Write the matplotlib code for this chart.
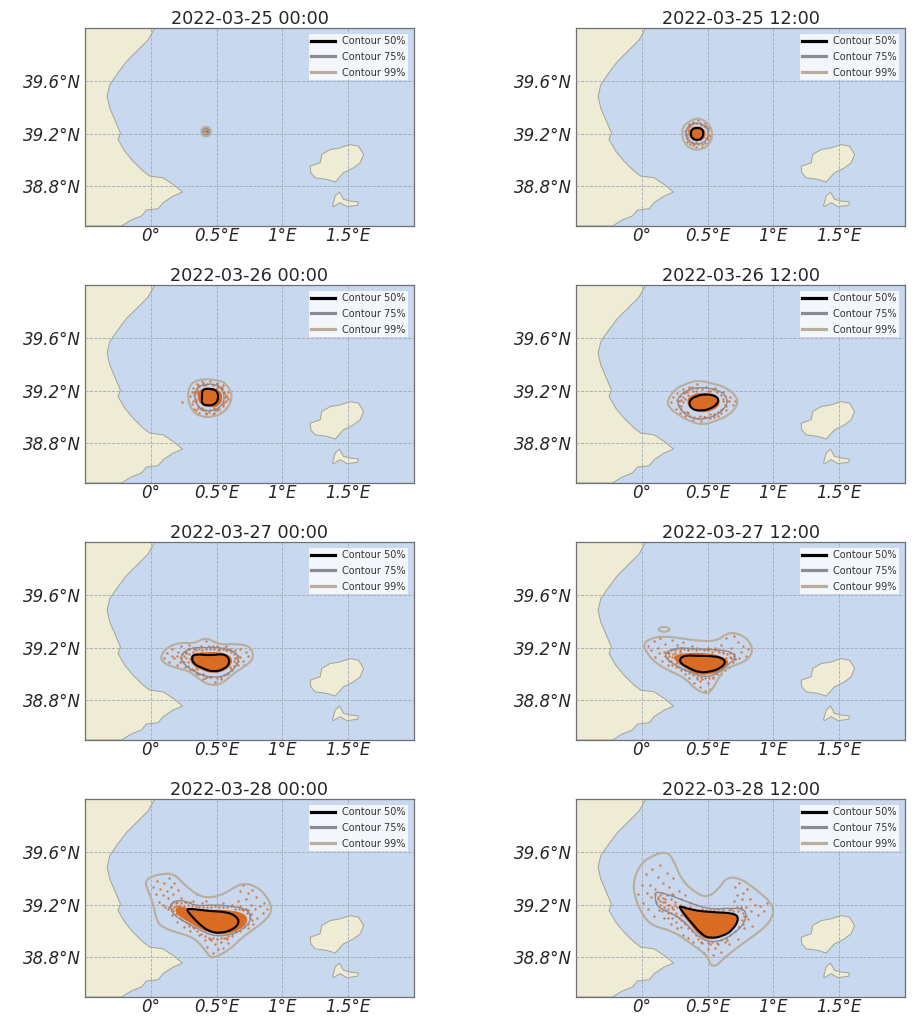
import matplotlib
matplotlib.use('Agg')
import matplotlib.pyplot as plt
from matplotlib.lines import Line2D
from matplotlib.path import Path
from matplotlib.patches import PathPatch

######################################
# Particle spreading maps, 12 hour steps
# all positions are lon,lat in degrees read off the map
######################################

titles = ['2022-03-25 00:00', '2022-03-25 12:00', '2022-03-26 00:00', '2022-03-26 12:00',
          '2022-03-27 00:00', '2022-03-27 12:00', '2022-03-28 00:00', '2022-03-28 12:00']

lon_ticks = [0, 0.5, 1, 1.5]
lon_labels = ['0°', '0.5°E', '1°E', '1.5°E']
lat_ticks = [38.8, 39.2, 39.6]
lat_labels = ['38.8°N', '39.2°N', '39.6°N']

# land
coast = [(0.03,40.0),(-0.02,39.91),(-0.096,39.834),(-0.185,39.746),(-0.261,39.645),(-0.312,39.57),
         (-0.332,39.482),(-0.312,39.394),(-0.274,39.306),(-0.231,39.205),(-0.249,39.155),(-0.198,39.067),
         (-0.135,38.991),(-0.058,38.916),(-0.008,38.878),(0.094,38.865),(0.17,38.815),(0.241,38.757),
         (0.17,38.727),(0.094,38.677),(0.056,38.631),(-0.033,38.621),(-0.071,38.576),(-0.147,38.546),
         (-0.223,38.5),(-0.6,38.5),(-0.6,40.0)]
ibiza = [(1.211,38.953),(1.287,38.979),(1.299,39.042),(1.363,39.079),(1.439,39.092),(1.515,39.117),
         (1.579,39.104),(1.617,39.042),(1.591,38.979),(1.541,38.941),(1.464,38.903),(1.401,38.833),
         (1.338,38.853),(1.249,38.865),(1.216,38.903)]
formentera = [(1.381,38.652),(1.401,38.727),(1.434,38.757),(1.464,38.702),(1.515,38.689),(1.579,38.682),
              (1.571,38.657),(1.49,38.647),(1.439,38.677),(1.388,38.647)]

# contours per panel
c50_p1 = []
c75_p1 = [(0.445,39.215),(0.438,39.233),(0.42,39.24),(0.402,39.233),(0.395,39.215),(0.402,39.197),(0.42,39.19),(0.438,39.197)]
c99_p1 = [(0.458,39.215),(0.447,39.243),(0.42,39.253),(0.393,39.243),(0.382,39.215),(0.393,39.187),(0.42,39.177),(0.447,39.187)]

c50_p2 = [(0.47,39.2),(0.46,39.235),(0.42,39.245),(0.38,39.235),(0.37,39.195),(0.385,39.16),(0.42,39.15),(0.455,39.16)]
c75_p2 = [(0.51,39.2),(0.49,39.26),(0.42,39.285),(0.35,39.26),(0.33,39.2),(0.35,39.14),(0.42,39.115),(0.49,39.14)]
c99_p2 = [(0.535,39.2),(0.525,39.25),(0.49,39.29),(0.43,39.32),(0.36,39.295),(0.31,39.25),(0.305,39.19),(0.32,39.13),
          (0.37,39.085),(0.43,39.075),(0.49,39.095),(0.53,39.15)]

c50_p3 = [(0.39,39.21),(0.45,39.215),(0.505,39.2),(0.515,39.14),(0.49,39.095),(0.43,39.085),(0.385,39.1),(0.39,39.15)]
c75_p3 = [(0.345,39.22),(0.42,39.255),(0.52,39.24),(0.565,39.16),(0.54,39.08),(0.46,39.04),(0.37,39.06),(0.33,39.14)]
c99_p3 = [(0.29,39.23),(0.33,39.27),(0.41,39.29),(0.5,39.28),(0.57,39.26),(0.62,39.17),(0.6,39.09),(0.55,39.03),
          (0.47,39.0),(0.38,39.0),(0.31,39.05),(0.28,39.14)]

c50_p4 = [(0.355,39.12),(0.41,39.16),(0.5,39.175),(0.575,39.155),(0.585,39.11),(0.53,39.065),(0.45,39.045),(0.375,39.06)]
c75_p4 = [(0.26,39.13),(0.33,39.2),(0.45,39.23),(0.6,39.2),(0.66,39.13),(0.62,39.05),(0.52,38.99),(0.4,38.98),(0.3,39.04)]
c99_p4 = [(0.19,39.12),(0.25,39.21),(0.33,39.25),(0.43,39.28),(0.55,39.25),(0.63,39.23),(0.72,39.16),(0.73,39.09),
          (0.66,39.01),(0.56,38.97),(0.47,38.94),(0.38,38.96),(0.27,39.02),(0.21,39.07)]

c50_p5 = [(0.31,39.14),(0.36,39.15),(0.45,39.14),(0.57,39.155),(0.605,39.09),(0.56,39.035),(0.47,39.015),(0.39,39.045),(0.32,39.08)]
c75_p5 = [(0.22,39.14),(0.3,39.2),(0.42,39.2),(0.55,39.2),(0.66,39.16),(0.67,39.08),(0.58,38.99),(0.47,38.97),(0.36,39.0),(0.25,39.07)]
c99_p5 = [(0.07,39.13),(0.12,39.2),(0.22,39.24),(0.33,39.23),(0.42,39.28),(0.52,39.22),(0.65,39.23),(0.76,39.21),(0.785,39.12),
          (0.72,39.06),(0.62,39.0),(0.55,38.93),(0.46,38.91),(0.38,38.95),(0.3,39.02),(0.18,39.05),(0.1,39.08)]

c50_p6 = [(0.284,39.112),(0.327,39.142),(0.416,39.137),(0.518,39.137),(0.607,39.125),(0.64,39.087),(0.594,39.042),
          (0.518,39.016),(0.429,39.011),(0.353,39.049),(0.302,39.074)]
c75_p6 = [(0.175,39.162),(0.264,39.2),(0.391,39.192),(0.518,39.187),(0.67,39.175),(0.721,39.125),(0.645,39.062),
          (0.569,38.999),(0.48,38.974),(0.365,39.011),(0.264,39.062),(0.188,39.112)]
c99_p6 = [(0.01,39.225),(0.061,39.268),(0.162,39.288),(0.315,39.268),(0.442,39.25),(0.569,39.25),(0.645,39.308),
          (0.721,39.313),(0.81,39.263),(0.848,39.175),(0.797,39.099),(0.695,39.062),(0.619,39.036),(0.594,38.986),
          (0.53,38.873),(0.492,38.848),(0.404,38.886),(0.34,38.961),(0.239,39.011),(0.112,39.074),(0.036,39.162)]
islet_p6 = [(0.125,39.338),(0.14,39.352),(0.17,39.358),(0.2,39.352),(0.215,39.338),(0.2,39.324),(0.17,39.318),(0.14,39.324)]

c50_p7 = [(0.266,39.167),(0.322,39.167),(0.449,39.15),(0.576,39.145),(0.652,39.112),(0.673,39.062),(0.627,39.011),
          (0.525,38.981),(0.437,38.999),(0.373,39.049),(0.31,39.112)]
c75_p7 = [(0.145,39.213),(0.234,39.238),(0.348,39.187),(0.475,39.2),(0.627,39.187),(0.741,39.162),(0.766,39.087),
          (0.703,39.011),(0.576,38.961),(0.449,38.966),(0.348,39.024),(0.246,39.074),(0.157,39.137)]
c99_p7 = [(-0.046,39.376),(0.005,39.414),(0.094,39.434),(0.17,39.434),(0.234,39.376),(0.297,39.313),(0.398,39.25),
          (0.525,39.263),(0.627,39.326),(0.703,39.364),(0.805,39.338),(0.881,39.263),(0.926,39.167),(0.881,39.087),
          (0.779,39.011),(0.69,38.948),(0.602,38.86),(0.462,38.785),(0.429,38.835),(0.335,38.948),(0.208,38.986),
          (0.094,39.024),(0.043,39.074),(0.018,39.213),(-0.02,39.301)]

c50_p8 = [(0.277,39.195),(0.365,39.162),(0.518,39.142),(0.695,39.137),(0.741,39.099),(0.695,39.011),(0.619,38.961),
          (0.518,38.943),(0.454,38.974),(0.378,39.062),(0.315,39.137)]
c75_p8 = [(0.099,39.275),(0.112,39.301),(0.239,39.263),(0.365,39.213),(0.518,39.162),(0.695,39.175),(0.797,39.162),
          (0.784,39.062),(0.695,38.974),(0.569,38.911),(0.442,38.936),(0.315,39.087),(0.188,39.15),(0.112,39.187)]
c99_p8 = [(-0.066,39.376),(-0.015,39.502),(0.086,39.577),(0.2,39.603),(0.251,39.514),(0.302,39.389),(0.391,39.301),
          (0.492,39.25),(0.581,39.313),(0.645,39.409),(0.746,39.401),(0.873,39.313),(1.013,39.187),(0.975,39.062),
          (0.848,38.961),(0.721,38.873),(0.607,38.78),(0.569,38.735),(0.518,38.74),(0.505,38.81),(0.365,38.911),
          (0.239,38.999),(0.086,39.036),(0.01,39.112),(-0.053,39.25)]

# solid orange part where the particles overlap
core_p1 = [(0.432,39.215),(0.428,39.224),(0.42,39.227),(0.412,39.224),(0.408,39.215),(0.412,39.206),(0.42,39.203),(0.428,39.206)]
core_p2 = [(0.37,39.24),(0.42,39.26),(0.47,39.24),(0.49,39.2),(0.47,39.15),(0.42,39.14),(0.37,39.16),(0.35,39.2)]
core_p3 = [(0.37,39.21),(0.45,39.23),(0.53,39.2),(0.55,39.14),(0.52,39.08),(0.45,39.07),(0.38,39.09),(0.35,39.15)]
core_p4 = [(0.36,39.16),(0.45,39.19),(0.57,39.17),(0.6,39.1),(0.55,39.05),(0.45,39.03),(0.37,39.06),(0.34,39.11)]
core_p5 = [(0.3,39.15),(0.42,39.17),(0.58,39.16),(0.63,39.1),(0.58,39.03),(0.48,39.0),(0.38,39.03),(0.3,39.08)]
core_p6 = [(0.24,39.14),(0.33,39.16),(0.5,39.16),(0.63,39.13),(0.67,39.08),(0.6,39.02),(0.5,38.99),(0.4,39.0),(0.32,39.05),(0.25,39.1)]
core_p7 = [(0.2,39.19),(0.3,39.17),(0.45,39.16),(0.6,39.16),(0.72,39.13),(0.74,39.07),(0.68,39.01),(0.57,38.97),
           (0.45,38.98),(0.35,39.03),(0.25,39.09),(0.18,39.14)]
core_p8 = [(0.28,39.2),(0.37,39.16),(0.52,39.15),(0.69,39.14),(0.75,39.09),(0.69,39.0),(0.6,38.95),(0.5,38.93),
           (0.43,38.97),(0.36,39.06),(0.3,39.13)]

# loose particles, outer part
pts_p1 = [(0.415,39.22),(0.425,39.21),(0.43,39.225)]
pts_p2 = [(0.33,39.22),(0.34,39.17),(0.36,39.27),(0.37,39.12),(0.39,39.29),(0.41,39.1),(0.43,39.3),(0.46,39.1),
          (0.48,39.28),(0.5,39.13),(0.51,39.24),(0.52,39.18),(0.35,39.24),(0.34,39.14),(0.49,39.26),(0.39,39.11)]
pts_p3 = [(0.3,39.16),(0.31,39.1),(0.32,39.22),(0.33,39.06),(0.35,39.25),(0.37,39.03),(0.39,39.27),(0.42,39.02),
          (0.45,39.27),(0.47,39.02),(0.5,39.25),(0.53,39.04),(0.55,39.24),(0.57,39.07),(0.59,39.19),(0.6,39.13),
          (0.33,39.19),(0.34,39.13),(0.56,39.18),(0.57,39.12),(0.4,39.05),(0.5,39.05),(0.41,39.24),(0.5,39.22),
          (0.24,39.11),(0.36,39.2),(0.54,39.22),(0.36,39.07),(0.44,39.04),(0.58,39.15)]
pts_p4 = [(0.22,39.11),(0.24,39.15),(0.26,39.06),(0.27,39.18),(0.29,39.03),(0.31,39.21),(0.33,39.01),(0.36,39.23),
          (0.39,38.98),(0.42,39.25),(0.45,38.97),(0.49,39.23),(0.52,38.99),(0.56,39.22),(0.58,39.01),(0.62,39.19),
          (0.64,39.05),(0.67,39.15),(0.69,39.09),(0.71,39.12),(0.28,39.12),(0.3,39.08),(0.31,39.15),(0.33,39.19),
          (0.34,39.04),(0.62,39.14),(0.63,39.09),(0.6,39.05),(0.65,39.12),(0.41,39.2),(0.52,39.2),(0.47,39.0)]
pts_p5 = [(0.1,39.12),(0.12,39.16),(0.14,39.09),(0.16,39.19),(0.18,39.12),(0.2,39.07),(0.21,39.17),(0.23,39.21),
          (0.24,39.1),(0.26,39.05),(0.27,39.17),(0.29,39.22),(0.3,39.03),(0.33,39.19),(0.35,39.0),(0.38,39.21),
          (0.4,38.96),(0.42,39.25),(0.45,38.98),(0.47,39.21),(0.49,38.94),(0.52,39.19),(0.53,38.96),(0.56,39.2),
          (0.58,39.0),(0.6,39.19),(0.62,39.03),(0.64,39.18),(0.66,39.07),(0.68,39.19),(0.7,39.1),(0.72,39.17),
          (0.74,39.14),(0.75,39.19),(0.65,39.12),(0.28,39.09),(0.25,39.14),(0.34,39.05),(0.63,39.1),(0.68,39.13),
          (0.16,39.14),(0.2,39.14),(0.44,39.21),(0.57,39.18),(0.6,39.05),(0.4,39.0),(0.22,39.09),(0.71,39.07)]
pts_p6 = [(0.05,39.21),(0.07,39.18),(0.09,39.25),(0.1,39.13),(0.12,39.2),(0.14,39.27),(0.15,39.1),(0.17,39.17),
          (0.18,39.23),(0.2,39.07),(0.21,39.14),(0.23,39.26),(0.24,39.19),(0.26,39.05),(0.27,39.22),(0.29,39.17),
          (0.31,39.24),(0.33,39.0),(0.35,39.19),(0.36,38.97),(0.38,39.21),(0.4,38.93),(0.42,39.2),(0.44,38.9),
          (0.46,38.96),(0.48,38.87),(0.5,38.93),(0.52,38.89),(0.54,38.97),(0.56,39.01),(0.58,39.18),(0.6,39.22),
          (0.62,39.17),(0.64,39.27),(0.66,39.05),(0.68,39.2),(0.7,39.29),(0.71,39.11),(0.73,39.24),(0.75,39.17),
          (0.77,39.21),(0.79,39.14),(0.81,39.19),(0.22,39.1),(0.28,39.08),(0.19,39.17),(0.42,38.96),(0.56,39.2),
          (0.7,39.15),(0.67,39.13),(0.5,39.19),(0.3,39.1),(0.25,39.16),(0.13,39.16),(0.62,39.06),(0.74,39.12)]
pts_p7 = [(0.02,39.33),(0.04,39.28),(0.05,39.38),(0.06,39.22),(0.07,39.32),(0.09,39.27),(0.1,39.36),(0.11,39.18),
          (0.12,39.3),(0.13,39.25),(0.14,39.4),(0.15,39.33),(0.16,39.12),(0.17,39.28),(0.18,39.36),(0.19,39.21),
          (0.2,39.07),(0.21,39.31),(0.23,39.25),(0.25,39.03),(0.27,39.22),(0.3,39.0),(0.32,39.23),(0.35,39.28),
          (0.37,38.97),(0.39,39.21),(0.41,38.93),(0.43,38.88),(0.45,38.94),(0.47,38.83),(0.49,38.9),(0.51,38.86),
          (0.53,38.92),(0.55,38.87),(0.57,38.95),(0.59,38.91),(0.62,38.96),(0.65,39.0),(0.66,39.23),(0.68,39.3),
          (0.69,39.17),(0.7,39.35),(0.71,39.05),(0.72,39.24),(0.74,39.29),(0.75,39.12),(0.76,39.2),(0.77,39.31),
          (0.78,39.05),(0.79,39.17),(0.8,39.26),(0.81,39.1),(0.83,39.19),(0.85,39.14),(0.86,39.21),(0.88,39.17),
          (0.15,39.2),(0.2,39.17),(0.23,39.12),(0.13,39.17),(0.09,39.2),(0.26,39.1),(0.22,39.19),(0.29,39.05),
          (0.71,39.1),(0.74,39.02),(0.68,39.03),(0.42,39.23),(0.55,39.21),(0.62,39.2)]
pts_p8 = [(-0.03,39.28),(0.0,39.35),(0.01,39.21),(0.03,39.43),(0.04,39.29),(0.05,39.17),(0.06,39.35),(0.07,39.26),
          (0.08,39.47),(0.09,39.11),(0.1,39.32),(0.11,39.22),(0.12,39.41),(0.13,39.16),(0.14,39.5),(0.15,39.29),
          (0.16,39.36),(0.17,39.1),(0.18,39.24),(0.19,39.44),(0.2,39.17),(0.21,39.33),(0.22,39.05),(0.23,39.28),
          (0.24,39.4),(0.25,39.2),(0.27,39.02),(0.28,39.3),(0.3,39.24),(0.31,38.97),(0.33,39.27),(0.35,38.95),
          (0.37,39.21),(0.39,38.92),(0.41,39.2),(0.43,38.87),(0.45,38.92),(0.47,38.83),(0.5,38.86),(0.52,38.9),
          (0.54,38.82),(0.56,38.87),(0.58,38.9),(0.6,38.84),(0.63,38.92),(0.66,38.9),(0.68,39.17),(0.7,39.23),
          (0.71,39.33),(0.72,39.27),(0.73,38.94),(0.74,39.36),(0.75,39.18),(0.76,39.24),(0.77,39.29),(0.78,39.02),
          (0.79,39.18),(0.8,39.32),(0.81,39.09),(0.82,39.24),(0.83,39.15),(0.84,39.04),(0.86,39.2),(0.88,39.12),
          (0.9,39.19),(0.93,39.15),(0.95,39.21),(0.14,39.23),(0.18,39.16),(0.22,39.14),(0.26,39.11),(0.3,39.08),
          (0.33,39.05),(0.16,39.22),(0.2,39.2),(0.24,39.17),(0.12,39.26),(0.74,39.03),(0.78,39.11),(0.65,38.93)]

# loose particles, band around the solid part
band_p1 = []
band_p2 = [(0.34,39.2),(0.35,39.23),(0.36,39.26),(0.38,39.27),(0.41,39.28),(0.44,39.28),(0.47,39.26),(0.49,39.25),
           (0.5,39.22),(0.505,39.19),(0.5,39.16),(0.48,39.13),(0.46,39.125),(0.43,39.12),(0.4,39.125),(0.38,39.135),
           (0.36,39.15),(0.345,39.175),(0.335,39.19),(0.355,39.215),(0.37,39.255),(0.45,39.265),(0.49,39.17),(0.41,39.135)]
band_p3 = [(0.33,39.17),(0.34,39.2),(0.345,39.11),(0.35,39.22),(0.36,39.08),(0.37,39.235),(0.38,39.06),(0.4,39.24),
           (0.41,39.05),(0.43,39.25),(0.45,39.05),(0.47,39.245),(0.49,39.055),(0.51,39.235),(0.52,39.06),(0.54,39.215),
           (0.545,39.085),(0.56,39.19),(0.56,39.11),(0.565,39.15),(0.335,39.14),(0.35,39.18),(0.36,39.24),(0.39,39.07),
           (0.48,39.07),(0.53,39.225),(0.55,39.1),(0.57,39.17),(0.32,39.12),(0.31,39.19),(0.4,39.26),(0.5,39.26),
           (0.59,39.14),(0.42,39.03),(0.48,39.03),(0.34,39.05)]
band_p4 = [(0.27,39.13),(0.28,39.09),(0.29,39.16),(0.3,39.06),(0.31,39.11),(0.32,39.18),(0.32,39.04),(0.33,39.14),
           (0.34,39.19),(0.35,39.03),(0.36,39.21),(0.37,39.01),(0.39,39.2),(0.4,39.0),(0.42,39.22),(0.44,39.01),
           (0.46,39.21),(0.48,39.0),(0.5,39.2),(0.52,39.02),(0.54,39.21),(0.55,39.02),(0.57,39.19),(0.58,39.04),
           (0.6,39.17),(0.61,39.06),(0.62,39.12),(0.63,39.16),(0.64,39.08),(0.66,39.12),(0.3,39.13),(0.35,39.17),
           (0.6,39.03),(0.43,38.99),(0.55,39.0),(0.38,39.23)]
band_p5 = [(0.23,39.12),(0.24,39.15),(0.25,39.09),(0.26,39.17),(0.27,39.12),(0.28,39.06),(0.29,39.15),(0.29,39.19),
           (0.3,39.11),(0.31,39.04),(0.32,39.17),(0.33,39.03),(0.34,39.18),(0.35,39.01),(0.37,39.19),(0.37,39.0),
           (0.39,39.18),(0.4,38.99),(0.42,39.19),(0.43,38.98),(0.45,39.19),(0.46,38.98),(0.48,39.19),(0.5,38.97),
           (0.52,39.18),(0.53,38.98),(0.55,39.19),(0.56,38.99),(0.58,39.18),(0.59,39.01),(0.6,39.18),(0.61,39.04),
           (0.63,39.15),(0.63,39.06),(0.64,39.12),(0.65,39.08),(0.66,39.14),(0.66,39.1),(0.61,39.17),(0.27,39.16),
           (0.33,39.2),(0.5,39.21),(0.28,39.19),(0.57,39.21),(0.41,38.97),(0.35,39.04)]
band_p6 = [(0.18,39.14),(0.19,39.12),(0.2,39.16),(0.21,39.1),(0.22,39.18),(0.23,39.13),(0.23,39.07),(0.25,39.18),
           (0.26,39.08),(0.27,39.2),(0.28,39.05),(0.29,39.18),(0.3,39.03),(0.32,39.19),(0.33,39.03),(0.35,39.18),
           (0.36,39.01),(0.38,39.19),(0.39,38.99),(0.41,39.18),(0.42,38.98),(0.44,39.19),(0.45,38.98),(0.47,39.18),
           (0.48,38.97),(0.5,39.18),(0.51,38.97),(0.53,39.17),(0.54,38.98),(0.56,39.18),(0.57,39.0),(0.59,39.17),
           (0.6,39.0),(0.62,39.16),(0.63,39.03),(0.65,39.15),(0.66,39.05),(0.68,39.12),(0.69,39.09),(0.7,39.14),
           (0.71,39.11),(0.24,39.15),(0.26,39.13),(0.21,39.16),(0.64,39.12),(0.67,39.16),(0.5,39.2),(0.37,39.03),
           (0.44,38.95),(0.3,39.2)]
band_p7 = [(0.15,39.2),(0.16,39.17),(0.17,39.22),(0.18,39.18),(0.19,39.13),(0.2,39.22),(0.21,39.15),(0.22,39.1),
           (0.23,39.21),(0.24,39.08),(0.25,39.19),(0.27,39.07),(0.28,39.2),(0.29,39.04),(0.31,39.19),(0.32,39.03),
           (0.34,39.19),(0.35,39.0),(0.37,39.18),(0.38,38.98),(0.4,39.18),(0.41,38.96),(0.43,39.18),(0.44,38.95),
           (0.46,39.18),(0.47,38.95),(0.49,39.19),(0.5,38.94),(0.52,39.18),(0.53,38.95),(0.55,39.18),(0.56,38.95),
           (0.58,39.18),(0.59,38.96),(0.61,39.19),(0.62,38.98),(0.64,39.17),(0.65,38.99),(0.67,39.17),(0.68,39.0),
           (0.7,39.16),(0.71,39.03),(0.73,39.14),(0.74,39.05),(0.75,39.1),(0.76,39.13),(0.74,39.16),(0.77,39.08),
           (0.26,39.22),(0.14,39.18),(0.19,39.19),(0.33,39.02),(0.46,38.93),(0.58,38.94),(0.72,39.17),(0.24,39.11),
           (0.21,39.19),(0.17,39.15),(0.3,39.22),(0.68,39.19)]
band_p8 = [(0.1,39.28),(0.12,39.24),(0.14,39.2),(0.14,39.27),(0.16,39.25),(0.17,39.18),(0.18,39.22),(0.19,39.27),
           (0.2,39.14),(0.21,39.2),(0.22,39.24),(0.23,39.1),(0.23,39.18),(0.25,39.22),(0.26,39.14),(0.26,39.07),
           (0.27,39.18),(0.28,39.1),(0.29,39.2),(0.3,39.03),(0.31,39.17),(0.32,39.07),(0.33,39.18),(0.35,39.16),
           (0.35,39.02),(0.37,39.18),(0.38,39.0),(0.4,39.17),(0.41,38.97),(0.43,39.16),(0.43,38.94),(0.46,39.17),
           (0.46,38.91),(0.49,39.16),(0.5,38.91),(0.52,39.16),(0.53,38.92),(0.55,39.16),(0.57,38.91),(0.58,39.17),
           (0.6,38.93),(0.62,39.16),(0.64,38.95),(0.66,39.16),(0.67,38.97),(0.69,39.15),(0.71,39.0),(0.73,39.15),
           (0.74,39.03),(0.76,39.08),(0.77,39.14),(0.77,39.05),(0.79,39.11),(0.75,39.17),(0.2,39.1),(0.15,39.15),
           (0.24,39.27),(0.3,39.12),(0.34,39.1),(0.72,39.18)]

land_color = '#efecd6'
sea_color = '#c7d8ef'
orange = '#d96b22'
col_50 = 'black'
col_75 = '#8b8b93'
col_99 = '#b9ae9c'

# axes corners in pixels
W = 915.
H = 1016.
lefts = [85, 576]
tops = [28, 285, 542, 799]
ax_w = 329
ax_h = 198

panels = [(c50_p1,c75_p1,c99_p1,core_p1,pts_p1+band_p1),(c50_p2,c75_p2,c99_p2,core_p2,pts_p2+band_p2),
          (c50_p3,c75_p3,c99_p3,core_p3,pts_p3+band_p3),(c50_p4,c75_p4,c99_p4,core_p4,pts_p4+band_p4),
          (c50_p5,c75_p5,c99_p5,core_p5,pts_p5+band_p5),(c50_p6,c75_p6,c99_p6,core_p6,pts_p6+band_p6),
          (c50_p7,c75_p7,c99_p7,core_p7,pts_p7+band_p7),(c50_p8,c75_p8,c99_p8,core_p8,pts_p8+band_p8)]


def rounded(pts):
    # closed path with the listed positions as curve control points
    n = len(pts)
    mid = [((pts[k][0]+pts[(k+1)%n][0])/2, (pts[k][1]+pts[(k+1)%n][1])/2) for k in range(n)]
    verts = [mid[-1]]
    codes = [Path.MOVETO]
    for k in range(n):
        verts += [pts[k], mid[k]]
        codes += [Path.CURVE3, Path.CURVE3]
    return Path(verts, codes)


def ring(ax, pts, color, lw, zorder):
    if len(pts) == 0:
        return
    ax.add_patch(PathPatch(rounded(pts), fill=False, edgecolor=color, lw=lw, zorder=zorder))


fig = plt.figure(figsize=(W/100, H/100), dpi=100)

for i in range(8):
    left = lefts[i % 2]
    top = tops[i // 2]
    ax = fig.add_axes([left/W, 1-(top+ax_h)/H, ax_w/W, ax_h/H], facecolor=sea_color)
    c50, c75, c99, core, pts = panels[i]

    for shape in [coast, ibiza, formentera]:
        ax.fill([p[0] for p in shape], [p[1] for p in shape], facecolor=land_color,
                edgecolor='#a3a396', lw=0.7, zorder=1)

    ax.set_xticks(lon_ticks)
    ax.set_xticklabels(lon_labels, style='italic', fontsize=12, color='#262626')
    ax.set_yticks(lat_ticks)
    ax.set_yticklabels(lat_labels, style='italic', fontsize=12, color='#262626')
    ax.tick_params(axis='x', length=0, pad=1)
    ax.tick_params(axis='y', length=0, pad=3)
    ax.grid(True, ls='--', lw=0.6, color='#a2a9b2', zorder=2)
    ax.set_axisbelow(False)

    ax.add_patch(PathPatch(rounded(core), facecolor=orange, edgecolor='none', zorder=3))
    ax.scatter([p[0] for p in pts], [p[1] for p in pts], s=3, color=orange, alpha=0.85, lw=0, zorder=3)

    ring(ax, c99, col_99, 1.5, 4)
    if i == 5:
        ring(ax, islet_p6, col_99, 1.5, 4)
    ring(ax, c75, col_75, 1.0, 5)
    ring(ax, c50, col_50, 1.5, 6)

    ax.set_xlim(-0.5, 2)
    ax.set_ylim(38.5, 40)
    ax.set_title(titles[i], fontsize=12.7, color='#262626', pad=3)

    for s in ax.spines.values():
        s.set_color('#6e7074')
        s.set_linewidth(0.9)

    handles = [Line2D([], [], color=col_50, lw=2.3), Line2D([], [], color=col_75, lw=2.3),
               Line2D([], [], color=col_99, lw=2.3)]
    leg = ax.legend(handles, ['Contour 50%', 'Contour 75%', 'Contour 99%'], loc='upper right',
                    fontsize=7, framealpha=0.8, borderaxespad=0.62, borderpad=0.2, labelspacing=0.6,
                    handlelength=2.4, handletextpad=0.8, fancybox=False)
    leg.get_frame().set_edgecolor('none')
    for t in leg.get_texts():
        t.set_color('#333333')

plt.savefig('out.png', dpi=100)
